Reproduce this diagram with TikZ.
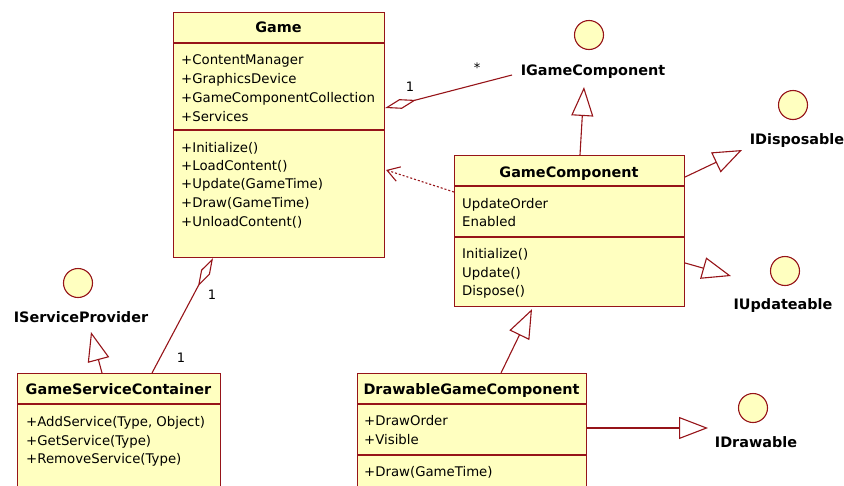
\documentclass[tikz,border=0pt]{standalone}
\usepackage{fontspec}
\setmainfont{DejaVu Sans}
\usetikzlibrary{arrows.meta,calc}
\definecolor{umlred}{RGB}{150,20,25}
\definecolor{umlfill}{RGB}{255,255,192}

\begin{document}
\begin{tikzpicture}[x=1pt,y=-1pt,
  classbox/.style={draw=umlred, fill=umlfill, line width=1.1pt, rectangle, anchor=north west, inner sep=0pt},
  sep/.style={draw=umlred, line width=1.1pt},
  title/.style={font=\fontsize{14.4}{17}\bfseries\selectfont, anchor=base, inner sep=0pt},
  member/.style={font=\fontsize{13.3}{16}\selectfont, anchor=base west, inner sep=0pt},
  iface/.style={circle, draw=umlred, fill=umlfill, line width=1.1pt, minimum size=29pt, inner sep=0pt},
  ilabel/.style={font=\fontsize{14.4}{17}\bfseries\selectfont, anchor=base, inner sep=0pt},
  mult/.style={font=\fontsize{13}{15}\selectfont, anchor=base, inner sep=0pt},
  link/.style={draw=umlred, line width=1.1pt},
  realize/.style={link, -{Triangle[open, length=29pt, width=22pt, fill=white]}},
  aggr/.style={link, -{Diamond[open, length=32pt, width=10pt, fill=white]}},
  depend/.style={link, dash pattern=on 2pt off 2pt, -{Straight Barb[length=12pt, width=15pt]}},
]
\path[use as bounding box, clip] (0,0) rectangle (844,485);

% ---------- Game ----------
\node[classbox, minimum width=211pt, minimum height=245pt] (game) at (173,12) {};
\draw[sep] ($(game.north west)+(0,31)$) -- ($(game.north east)+(0,31)$);
\draw[sep] ($(game.north west)+(0,118)$) -- ($(game.north east)+(0,118)$);
\node[title] (gameT) at (278.5,32) {Game};
\node[member] (gameA1) at (181,64)  {+ContentManager};
\node[member] (gameA2) at (181,83)  {+GraphicsDevice};
\node[member] (gameA3) at (181,102) {+GameComponentCollection};
\node[member] (gameA4) at (181,121) {+Services};
\node[member] (gameM1) at (181,152) {+Initialize()};
\node[member] (gameM2) at (181,170) {+LoadContent()};
\node[member] (gameM3) at (181,188) {+Update(GameTime)};
\node[member] (gameM4) at (181,207) {+Draw(GameTime)};
\node[member] (gameM5) at (181,226) {+UnloadContent()};

% ---------- GameComponent ----------
\node[classbox, minimum width=230pt, minimum height=151pt] (gc) at (454,155) {};
\draw[sep] ($(gc.north west)+(0,31)$) -- ($(gc.north east)+(0,31)$);
\draw[sep] ($(gc.north west)+(0,82)$) -- ($(gc.north east)+(0,82)$);
\node[title] (gcT) at (569,177) {GameComponent};
\node[member] (gcA1) at (462,208) {UpdateOrder};
\node[member] (gcA2) at (462,226) {Enabled};
\node[member] (gcM1) at (462,258) {Initialize()};
\node[member] (gcM2) at (462,277) {Update()};
\node[member] (gcM3) at (462,295) {Dispose()};

% ---------- GameServiceContainer ----------
\node[classbox, minimum width=203pt, minimum height=130pt] (gsc) at (17,373) {};
\draw[sep] ($(gsc.north west)+(0,31)$) -- ($(gsc.north east)+(0,31)$);
\node[title] (gscT) at (118.5,394) {GameServiceContainer};
\node[member] (gscM1) at (26,426) {+AddService(Type, Object)};
\node[member] (gscM2) at (26,445) {+GetService(Type)};
\node[member] (gscM3) at (26,463) {+RemoveService(Type)};

% ---------- DrawableGameComponent ----------
\node[classbox, minimum width=229pt, minimum height=130pt] (dgc) at (357,373) {};
\draw[sep] ($(dgc.north west)+(0,31)$) -- ($(dgc.north east)+(0,31)$);
\draw[sep] ($(dgc.north west)+(0,82)$) -- ($(dgc.north east)+(0,82)$);
\node[title] (dgcT) at (471.5,394) {DrawableGameComponent};
\node[member] (dgcA1) at (364,425) {+DrawOrder};
\node[member] (dgcA2) at (364,444) {+Visible};
\node[member] (dgcM1) at (364,476) {+Draw(GameTime)};

% ---------- Interfaces (lollipops) ----------
\node[iface] (igcC)   at (589,35)  {};
\node[ilabel] (igc)   at (593,75)  {IGameComponent};
\node[iface] (idispC) at (793,105) {};
\node[ilabel] (idisp) at (797,144) {IDisposable};
\node[iface] (iupdC)  at (785,271) {};
\node[ilabel] (iupd)  at (783,309) {IUpdateable};
\node[iface] (ispC)   at (78,283)  {};
\node[ilabel] (isp)   at (81,322)  {IServiceProvider};
\node[iface] (idrawC) at (753,408) {};
\node[ilabel] (idraw) at (756,447) {IDrawable};

% free ends of the connectors next to the interface labels
\coordinate (igcFoot)  at (512,75);
\coordinate (igcTip)   at (584,87);
\coordinate (idispTip) at (742,150);
\coordinate (iupdTip)  at (731,276);
\coordinate (ispTip)   at (91,332);
\coordinate (idrawTip) at (708,428);

% ---------- Aggregations ----------
\draw[aggr] (igcFoot) -- ($(game.north east)+(0,96)$);
\node[mult] (m1) at (410,91)   {1};
\node[mult] (m2) at (477,72.5) {*};
\draw[aggr] ($(gsc.north west)+(135,0)$) -- ($(game.south west)+(40,0)$);
\node[mult] (m3) at (212,299) {1};
\node[mult] (m4) at (181,362) {1};

% ---------- Dependency ----------
\draw[depend] ($(gc.north west)+(0,37)$) -- ($(game.north east)+(1,158)$);

% ---------- Generalisations / realisations ----------
\draw[realize] ($(gc.north west)+(126,0)$) -- (igcTip);
\draw[realize] ($(gc.north east)+(0,22)$) -- (idispTip);
\draw[realize] ($(gc.north east)+(0,108)$) -- (iupdTip);
\draw[realize] ($(dgc.north west)+(144,0)$) -- ($(gc.south west)+(78,2)$);
\draw[realize] ($(dgc.north east)+(0,55)$) -- (idrawTip);
\draw[realize] ($(gsc.north west)+(85,0)$) -- (ispTip);
\end{tikzpicture}
\end{document}
